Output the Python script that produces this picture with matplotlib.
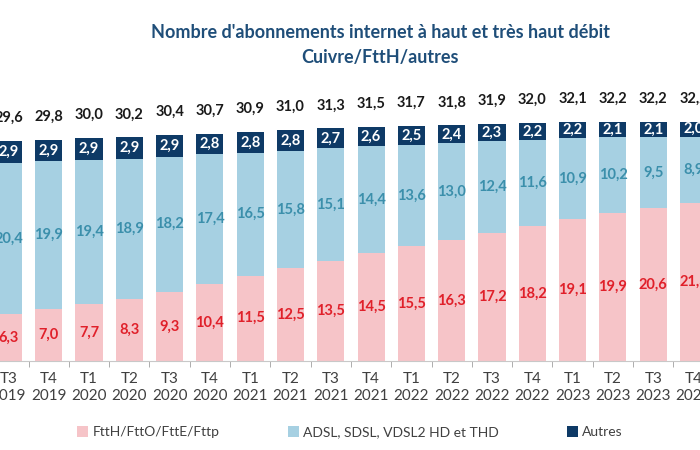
import numpy as np
import matplotlib.pyplot as plt
from matplotlib.ticker import FixedLocator

# données (millions d'abonnements)
periodes = ['T3\n2019', 'T4\n2019', 'T1\n2020', 'T2\n2020', 'T3\n2020', 'T4\n2020',
            'T1\n2021', 'T2\n2021', 'T3\n2021', 'T4\n2021', 'T1\n2022', 'T2\n2022',
            'T3\n2022', 'T4\n2022', 'T1\n2023', 'T2\n2023', 'T3\n2023', 'T4\n2023']
ftth = [6.3, 7.0, 7.7, 8.3, 9.3, 10.4, 11.5, 12.5, 13.5, 14.5, 15.5, 16.3,
        17.2, 18.2, 19.1, 19.9, 20.6, 21.3]
adsl = [20.4, 19.9, 19.4, 18.9, 18.2, 17.4, 16.5, 15.8, 15.1, 14.4, 13.6, 13.0,
        12.4, 11.6, 10.9, 10.2, 9.5, 8.9]
autres = [2.9, 2.9, 2.9, 2.9, 2.9, 2.8, 2.8, 2.8, 2.7, 2.6, 2.5, 2.4,
          2.3, 2.2, 2.2, 2.1, 2.1, 2.0]
totaux = [29.6, 29.8, 30.0, 30.2, 30.4, 30.7, 30.9, 31.0, 31.3, 31.5, 31.7, 31.8,
          31.9, 32.0, 32.1, 32.2, 32.2, 32.2]

c_ftth = '#f6c4c8'
c_adsl = '#a6d0e2'
c_autres = '#0e3a66'

plt.rcParams['font.family'] = ['Lato', 'DejaVu Sans']

def fmt(v):
    return '{:.1f}'.format(v).replace('.', ',')

fig = plt.figure(figsize=(7, 4.5), dpi=100)
# axe volontairement plus large que la figure (graphique rogné)
step = 40.3
x0 = 8.4
ax = fig.add_axes([0, 89 / 450, 1, 267.5 / 450])
ax.set_xlim(-x0 / step, (700 - x0) / step)
ax.set_ylim(0, 36)

x = np.arange(len(periodes))
ftth = np.array(ftth)
adsl = np.array(adsl)
autres = np.array(autres)
w = 0.67

b1 = ax.bar(x, ftth, w, color=c_ftth, label='FttH/FttO/FttE/Fttp')
b2 = ax.bar(x, adsl, w, bottom=ftth, color=c_adsl, label='ADSL, SDSL, VDSL2 HD et THD')
b3 = ax.bar(x, autres, w, bottom=ftth + adsl, color=c_autres, label='Autres')

for i in x:
    ax.text(i, ftth[i] / 2, fmt(ftth[i]), ha='center', va='center',
            color='#e0202a', fontsize=10.5, fontweight='bold')
    ax.text(i, ftth[i] + adsl[i] / 2, fmt(adsl[i]), ha='center', va='center',
            color='#3b8fab', fontsize=10.5, fontweight='bold')
    ax.text(i, ftth[i] + adsl[i] + autres[i] / 2, fmt(autres[i]), ha='center', va='center',
            color='white', fontsize=10.5, fontweight='bold')
    ax.annotate(fmt(totaux[i]), (i, ftth[i] + adsl[i] + autres[i]), xytext=(0, 23),
                textcoords='offset pixels', ha='center', va='center',
                color='#1a1a1a', fontsize=10.5, fontweight='bold')

for s in ['top', 'right', 'left']:
    ax.spines[s].set_visible(False)
ax.spines['bottom'].set_color('#c8c8c8')
ax.set_yticks([])
ax.set_xticks(x)
ax.set_xticklabels(periodes, fontsize=11, color='#404040', linespacing=1.3)
ax.tick_params(axis='x', which='major', length=0, pad=8)
ax.xaxis.set_minor_locator(FixedLocator(x[:-1] + 0.5))
ax.tick_params(axis='x', which='minor', length=4, color='#a0a0a0')

fig.text(0.543, 0.927, "Nombre d'abonnements internet à haut et très haut débit",
         ha='center', va='center', fontsize=13, fontweight='bold', color='#1f4e79')
fig.text(0.543, 0.873, 'Cuivre/FttH/autres',
         ha='center', va='center', fontsize=13, fontweight='bold', color='#1f4e79')

fig.legend(handles=[b1, b2, b3], loc='center', bbox_to_anchor=(0.5, 0.04), ncol=3,
           frameon=False, fontsize=10, handlelength=0.8, handleheight=0.8,
           handletextpad=0.3, columnspacing=4.9, labelcolor='#404040')

fig.savefig('out.png', dpi=100)
